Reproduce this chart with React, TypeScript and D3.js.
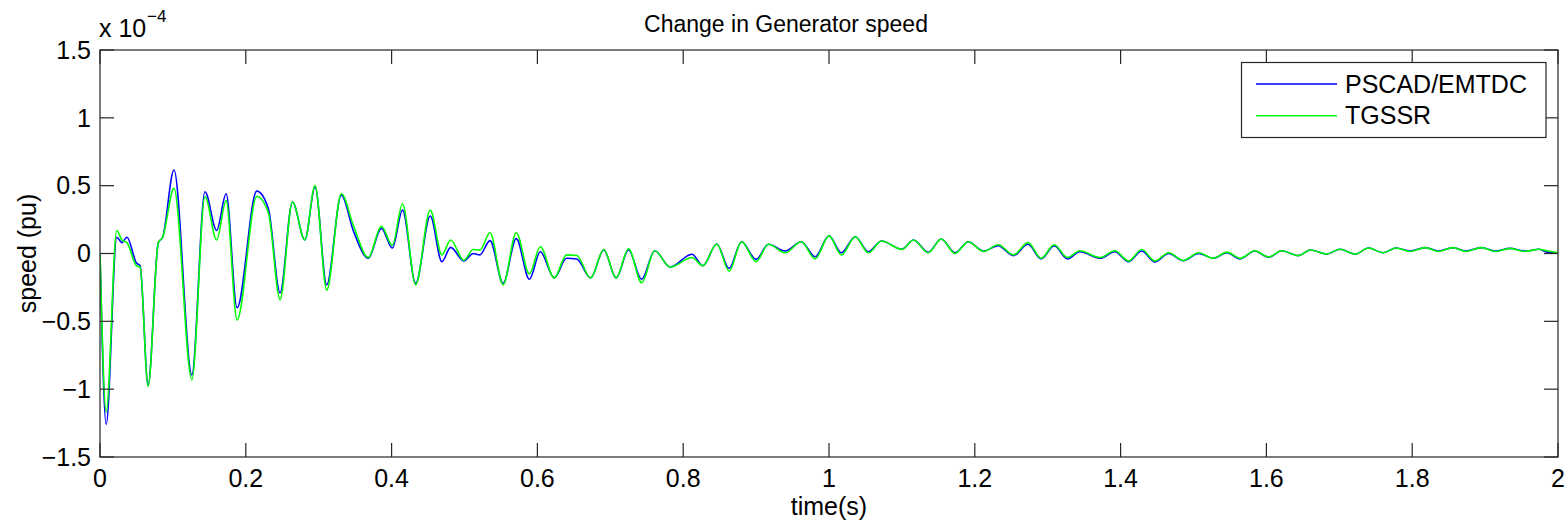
import React from "react";
import * as d3 from "d3";

// time (s)
const timeS: number[] = [
  0.000, 0.0085, 0.023, 0.030, 0.037, 0.050, 0.055, 0.066, 0.080, 0.086,
  0.1015, 0.126, 0.144, 0.160, 0.173, 0.188, 0.215, 0.231, 0.247, 0.264,
  0.281, 0.295, 0.311, 0.331, 0.348, 0.368, 0.386, 0.401, 0.415, 0.433,
  0.453, 0.469, 0.481, 0.499, 0.512, 0.521, 0.535, 0.553, 0.571, 0.589,
  0.604, 0.623, 0.640, 0.654, 0.673, 0.691, 0.708, 0.725, 0.743, 0.761,
  0.782, 0.812, 0.827, 0.846, 0.863, 0.880, 0.900, 0.917, 0.940, 0.962,
  0.981, 1.000, 1.017, 1.036, 1.054, 1.072, 1.100, 1.116, 1.136, 1.154,
  1.173, 1.191, 1.212, 1.232, 1.253, 1.273, 1.291, 1.309, 1.327, 1.344,
  1.372, 1.392, 1.411, 1.429, 1.447, 1.466, 1.486, 1.507, 1.527, 1.546,
  1.564, 1.584, 1.603, 1.621, 1.644, 1.660, 1.683, 1.701, 1.722, 1.740,
  1.760, 1.778, 1.797, 1.818, 1.836, 1.856, 1.873, 1.895, 1.914, 1.934,
  1.955, 1.974, 1.985, 2.000,
];

// speed deviation, units of 1e-4 pu
const pscadSpeed: number[] = [
  0.00, -1.26, 0.12, 0.08, 0.12, -0.07, -0.09, -0.97, 0.08, 0.12,
  0.615, -0.895, 0.455, 0.17, 0.44, -0.40, 0.46, 0.33, -0.29, 0.38,
  0.10, 0.49, -0.23, 0.43, 0.16, -0.035, 0.185, 0.04, 0.32, -0.22,
  0.276, -0.06, 0.045, -0.055, 0.00, -0.01, 0.095, -0.22, 0.11, -0.19,
  0.013, -0.18, -0.035, -0.04, -0.18, 0.026, -0.18, 0.026, -0.19, 0.02,
  -0.10, -0.006, -0.09, 0.07, -0.11, 0.087, -0.043, 0.068, 0.018, 0.087,
  -0.024, 0.13, 0.006, 0.124, 0.013, 0.092, 0.031, 0.10, 0.009, 0.107,
  0.006, 0.087, 0.018, 0.058, -0.016, 0.068, -0.04, 0.058, -0.04, 0.013,
  -0.035, 0.013, -0.06, 0.018, -0.063, 0.0, -0.053, 0.0, -0.035, 0.006,
  -0.04, 0.018, -0.028, 0.02, -0.016, 0.026, -0.004, 0.031, -0.004, 0.04,
  0.006, 0.04, 0.018, 0.043, 0.018, 0.043, 0.018, 0.043, 0.018, 0.038,
  0.018, 0.031, 0.01, 0.005,
];

const tgssrSpeed: number[] = [
  0.00, -1.17, 0.17, 0.10, 0.08, -0.09, -0.10, -0.98, 0.08, 0.12,
  0.48, -0.93, 0.42, 0.10, 0.39, -0.49, 0.42, 0.30, -0.34, 0.38,
  0.10, 0.50, -0.27, 0.44, 0.20, -0.03, 0.20, 0.06, 0.365, -0.23,
  0.32, -0.01, 0.10, -0.05, 0.03, 0.025, 0.153, -0.23, 0.153, -0.15,
  0.05, -0.18, -0.01, -0.015, -0.18, 0.03, -0.18, 0.035, -0.215, 0.02,
  -0.10, -0.03, -0.09, 0.07, -0.13, 0.087, -0.06, 0.068, 0.005, 0.087,
  -0.04, 0.13, -0.01, 0.124, 0.005, 0.092, 0.03, 0.10, 0.005, 0.107,
  0.0, 0.087, 0.015, 0.065, -0.01, 0.08, -0.035, 0.065, -0.03, 0.02,
  -0.03, 0.02, -0.055, 0.03, -0.055, 0.005, -0.05, 0.005, -0.035, 0.01,
  -0.035, 0.02, -0.025, 0.02, -0.016, 0.026, -0.004, 0.031, -0.004, 0.04,
  0.006, 0.04, 0.015, 0.043, 0.015, 0.043, 0.015, 0.043, 0.015, 0.038,
  0.015, 0.031, 0.02, 0.005,
];

const xTicks: number[] = [0, 0.2, 0.4, 0.6, 0.8, 1, 1.2, 1.4, 1.6, 1.8, 2];
const yTicks: number[] = [-1.5, -1, -0.5, 0, 0.5, 1, 1.5];
const seriesNames: string[] = ["PSCAD/EMTDC", "TGSSR"];
const seriesColors: string[] = ["#0000ff", "#00ff00"];

const W = 1568;
const H = 523;
const L = 100, R = 1558, T = 50, B = 457;
const FONT = "'Liberation Sans', Arial, sans-serif";
const AX = "#262626";

export default function App() {
  const x = d3.scaleLinear().domain([0, 2]).range([L, R]);
  const y = d3.scaleLinear().domain([-1.5, 1.5]).range([B, T]);
  const line = d3
    .line<number>()
    .x((_, i) => x(timeS[i]))
    .y((v) => y(v))
    .curve(d3.curveMonotoneX);
  const series = [pscadSpeed, tgssrSpeed];
  const tickLen = 14;

  return (
    <svg
      width={W}
      height={H}
      style={{ position: "absolute", left: 0, top: 0, background: "#fff" }}
      fontFamily={FONT}
    >
      <rect x={0} y={0} width={W} height={H} fill="#fff" />
      <defs>
        <clipPath id="plotclip">
          <rect x={L} y={T} width={R - L} height={B - T} />
        </clipPath>
      </defs>
      {/* curves */}
      <g clipPath="url(#plotclip)">
        {series.map((s, k) => (
          <path
            key={k}
            d={line(s) || ""}
            fill="none"
            stroke={seriesColors[k]}
            strokeWidth={1.6}
            strokeLinejoin="round"
          />
        ))}
      </g>
      {/* axes box */}
      <rect x={L} y={T} width={R - L} height={B - T} fill="none" stroke={AX} strokeWidth={1.2} />
      {/* x ticks */}
      {xTicks.map((t) => (
        <g key={"x" + t}>
          <line x1={x(t)} x2={x(t)} y1={B} y2={B - tickLen} stroke={AX} strokeWidth={1.2} />
          <line x1={x(t)} x2={x(t)} y1={T} y2={T + tickLen} stroke={AX} strokeWidth={1.2} />
          <text x={x(t)} y={487} textAnchor="middle" fontSize={25} fill="#000">
            {String(t)}
          </text>
        </g>
      ))}
      {/* y ticks */}
      {yTicks.map((v) => (
        <g key={"y" + v}>
          <line x1={L} x2={L + tickLen} y1={y(v)} y2={y(v)} stroke={AX} strokeWidth={1.2} />
          <line x1={R} x2={R - tickLen} y1={y(v)} y2={y(v)} stroke={AX} strokeWidth={1.2} />
          <text x={91} y={y(v)} dy="0.35em" textAnchor="end" fontSize={25} fill="#000">
            {v < 0 ? "\u2212" + String(-v) : String(v)}
          </text>
        </g>
      ))}
      {/* exponent */}
      <text x={99} y={37} fontSize={25} fill="#000">
        x 10
      </text>
      <text x={147} y={22} fontSize={17} fill="#000">
        {"\u22124"}
      </text>
      {/* title & labels */}
      <text x={786} y={32} textAnchor="middle" fontSize={23} fill="#000">
        Change in Generator speed
      </text>
      <text x={829} y={515} textAnchor="middle" fontSize={25} fill="#000">
        time(s)
      </text>
      <text
        transform={`translate(36,${(T + B) / 2}) rotate(-90)`}
        textAnchor="middle"
        fontSize={25}
        fill="#000"
      >
        speed (pu)
      </text>
      {/* legend */}
      <rect x={1241.5} y={62.5} width={304.5} height={75} fill="#fff" stroke={AX} strokeWidth={1.2} />
      {seriesNames.map((n, k) => (
        <g key={n}>
          <line
            x1={1256}
            x2={1337}
            y1={84 + k * 31.7}
            y2={84 + k * 31.7}
            stroke={seriesColors[k]}
            strokeWidth={1.5}
          />
          <text x={1345} y={84 + k * 31.7} dy="0.35em" fontSize={25} fill="#000">
            {n}
          </text>
        </g>
      ))}
    </svg>
  );
}
